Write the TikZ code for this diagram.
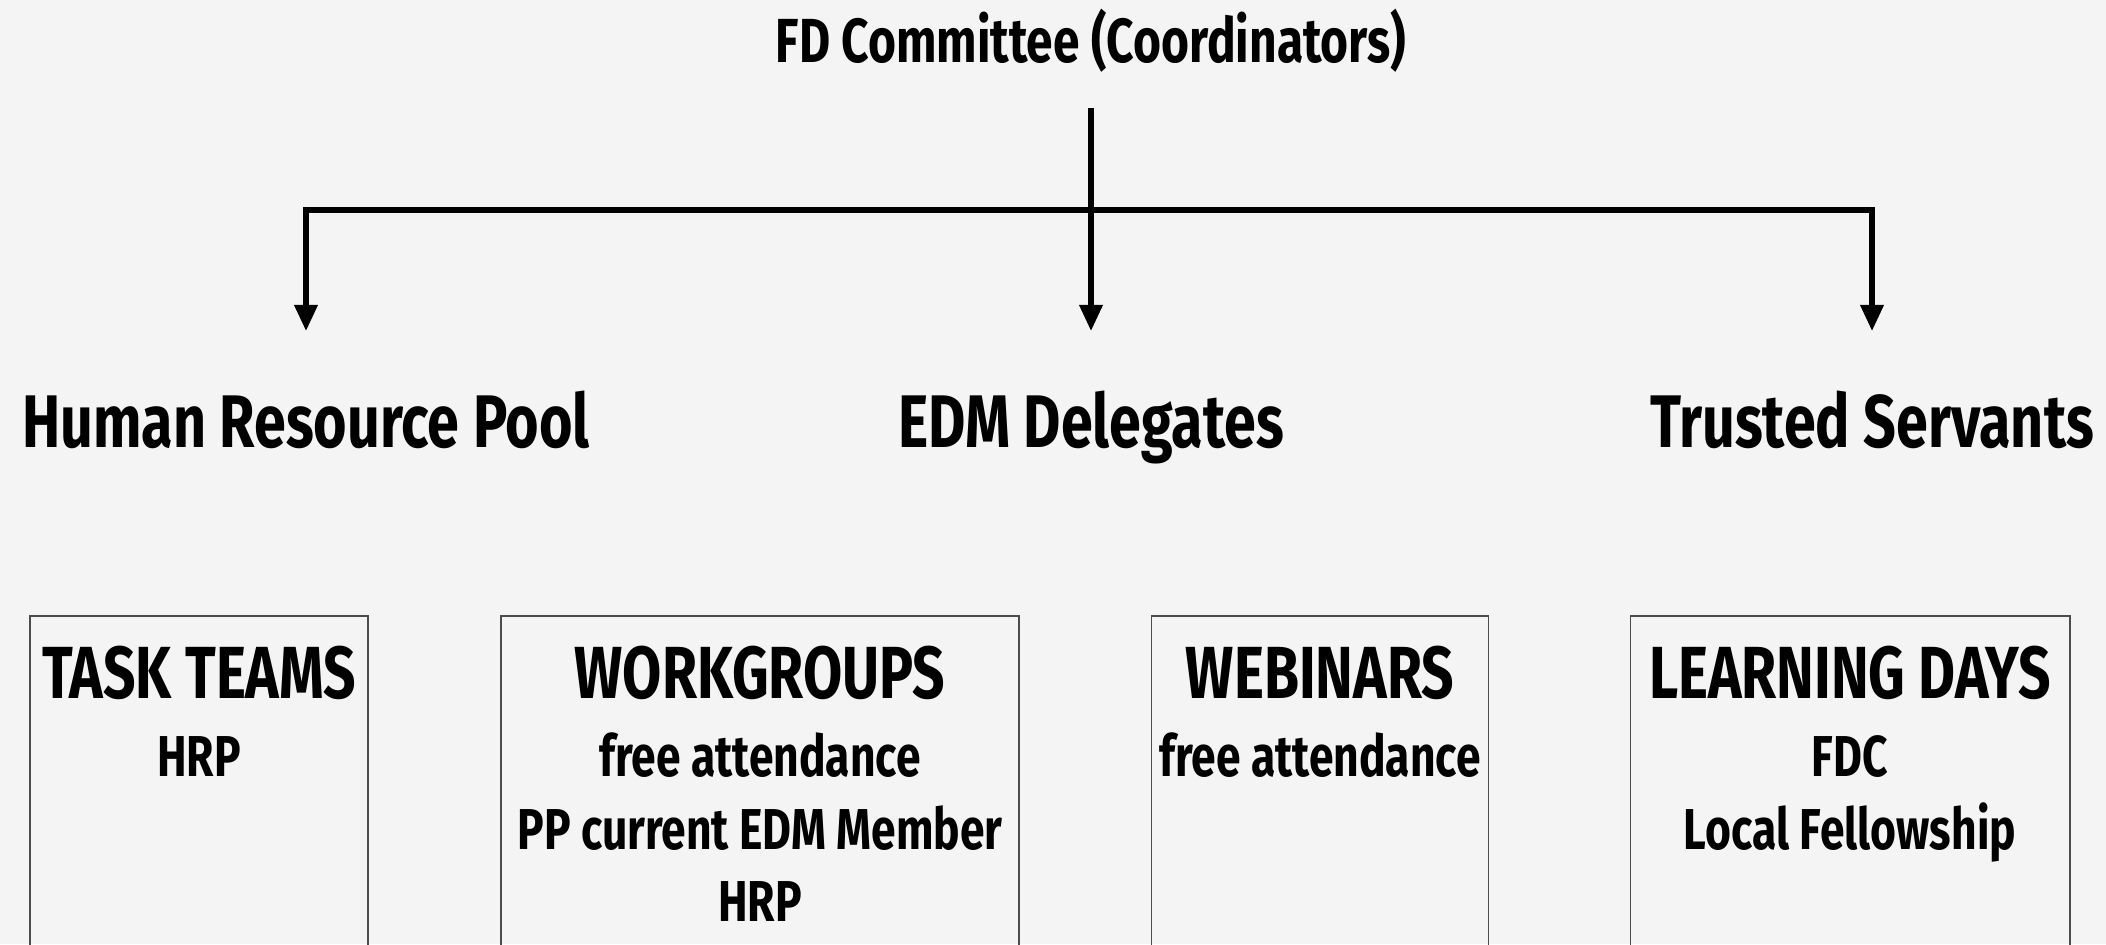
\documentclass[tikz,border=0pt]{standalone}
\usepackage{fontspec}
\setmainfont{Fira Sans}[FakeStretch=0.77]
\usetikzlibrary{arrows.meta,positioning}
\definecolor{paper}{HTML}{F4F4F4}

\begin{document}
\begin{tikzpicture}[x=0.01cm, y=-0.01cm,
  title/.style={font=\bfseries\fontsize{17.7}{20}\selectfont, anchor=base},
  role/.style={font=\bfseries\fontsize{21.2}{26}\selectfont, anchor=base},
  box/.style={draw=black!70, line width=0.5pt, anchor=north,
              minimum height=4cm},
  boxhead/.style={font=\bfseries\fontsize{21}{24}\selectfont, anchor=base},
  item/.style={font=\bfseries\fontsize{16.4}{19}\selectfont, anchor=base},
  link/.style={line width=1.5pt},
  arr/.style={link, -{Triangle[length=7.4pt,width=6.4pt]}}
]
\fill[paper] (0,0) rectangle (2106,944);
\useasboundingbox (0,0) rectangle (2106,944);

% top of the tree
\node[title] (fd) at (1091,62) {FD Committee (Coordinators)};
\node[role] (hrp) at (306,447) {Human Resource Pool};
\node[role] (edm) at (1091,447) {EDM Delegates};
\node[role] (ts) at (1872,447) {Trusted Servants};
\coordinate (split) at (1091,210);

\draw[arr, shorten <=0.24cm, shorten >=0.47cm] (fd) -- (edm);
\draw[arr, shorten >=0.47cm] (split) -| (hrp);
\draw[arr, shorten >=0.47cm] (split) -| (ts);

% activity boxes
\node[box, minimum width=3.38cm] (tasks) at (199,615) {};
\node[box, minimum width=5.17cm] (work) at (760,615) {};
\node[box, minimum width=3.37cm] (web) at (1320,615) {};
\node[box, minimum width=4.39cm] (learn) at (1850,615) {};

\node[boxhead] (tasksh) at (199,698) {TASK TEAMS};
\node[item] at (199,776) {HRP};

\node[boxhead] (workh) at (760,698) {WORKGROUPS};
\node[item] at (760,776) {free attendance};
\node[item] at (760,849) {PP current EDM Member};
\node[item] at (760,921) {HRP};

\node[boxhead] (webh) at (1320,698) {WEBINARS};
\node[item] at (1320,776) {free attendance};

\node[boxhead] (learnh) at (1850,698) {LEARNING DAYS};
\node[item] at (1850,776) {FDC};
\node[item] at (1850,849) {Local Fellowship};
\end{tikzpicture}
\end{document}
